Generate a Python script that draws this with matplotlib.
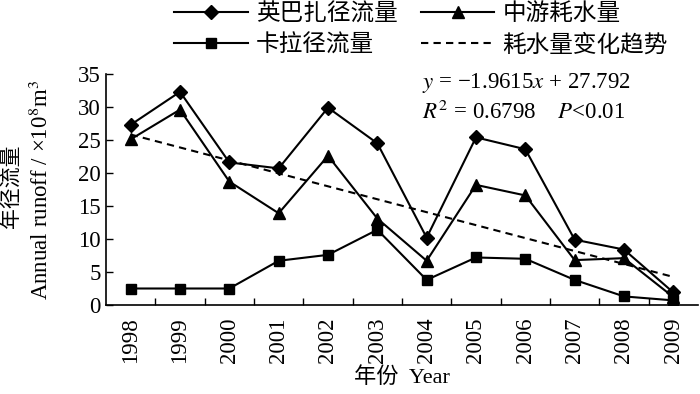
import numpy as np
import matplotlib
matplotlib.use("Agg")
import matplotlib.pyplot as plt

plt.rcParams['font.family'] = ['Liberation Serif', 'Noto Sans CJK SC']
plt.rcParams['mathtext.fontset'] = 'stix'

# data (10^8 m^3)
years = ['1998', '1999', '2000', '2001', '2002', '2003',
         '2004', '2005', '2006', '2007', '2008', '2009']
yingbazha = [27.3, 32.3, 21.6, 20.7, 29.9, 24.5, 10.2, 25.4, 23.6, 9.9, 8.4, 1.9]
zhongyou = [25.1, 29.6, 18.7, 13.9, 22.6, 13.1, 6.7, 18.2, 16.6, 6.8, 7.1, 1.2]
kala = [2.5, 2.5, 2.5, 6.7, 7.6, 11.4, 3.8, 7.2, 7.0, 3.8, 1.3, 0.7]

# linear trend of the mid-reach consumption, as printed on the chart
slope = -1.9615
intercept = 27.792

labels = ['英巴扎径流量', '中游耗水量', '卡拉径流量', '耗水量变化趋势']

x = np.arange(1, len(years) + 1)
trend = slope * x + intercept

fig = plt.figure(figsize=(7, 3.94), dpi=100)
ax = fig.add_axes([106 / 700, 1 - 305 / 394, 592 / 700, 231 / 394])

h1, = ax.plot(x, yingbazha, '-D', color='black', lw=1.5, ms=7, label=labels[0])
h2, = ax.plot(x, zhongyou, '-^', color='black', lw=1.5, ms=8.5, label=labels[1])
h3, = ax.plot(x, kala, '-s', color='black', lw=1.5, ms=7.5, label=labels[2])
h4, = ax.plot(x, trend, '--', color='black', lw=1.5, dashes=(3.5, 2.5), label=labels[3])

ax.set_xlim(0.5, 12.5)
ax.set_ylim(0, 35)
ax.set_yticks(range(0, 36, 5))
ax.set_xticks(x)
ax.set_xticklabels(years, rotation=90)
ax.set_xticks(np.arange(1.5, 12, 1), minor=True)
ax.tick_params(axis='x', which='major', length=0, pad=9, labelsize=16.5)
ax.tick_params(axis='x', which='minor', direction='in', length=5, width=1)
ax.tick_params(axis='y', direction='in', length=5, width=1, labelsize=16.5, pad=4)
for side in ['top', 'right']:
    ax.spines[side].set_visible(False)
for side in ['left', 'bottom']:
    ax.spines[side].set_linewidth(1.2)

ax.set_xlabel('年份  Year', fontsize=16, labelpad=3)

fig.text(12 / 700, 1 - 186 / 394, '年径流量', rotation=90, ha='center', va='center',
         fontsize=15, family=['Noto Sans CJK SC', 'Liberation Serif'])
fig.text(41 / 700, 1 - 190 / 394, r'Annual runoff / ×10$^{8}$m$^{3}$', rotation=90,
         ha='center', va='center', fontsize=16.5)

fig.text(422 / 700, 1 - 83 / 394, r'$y$ = −1.9615$x$ + 27.792', ha='left', va='center',
         fontsize=16.5)
fig.text(422 / 700, 1 - 112 / 394, r'$R^2$ = 0.6798    $P$<0.01', ha='left', va='center',
         fontsize=16.5)

# legend fills column-wise, so order gives rows: (1, 2) and (3, 4)
fig.legend(handles=[h1, h3, h2, h4], ncol=2, loc='upper left',
           bbox_to_anchor=(172 / 700, 1.0), frameon=False, borderpad=0.1,
           borderaxespad=0, handlelength=3.1, handletextpad=0.35,
           columnspacing=1.0, labelspacing=0.35,
           prop={'family': ['Noto Sans CJK SC', 'Liberation Serif'], 'size': 17})

fig.savefig('out.png', dpi=100)
